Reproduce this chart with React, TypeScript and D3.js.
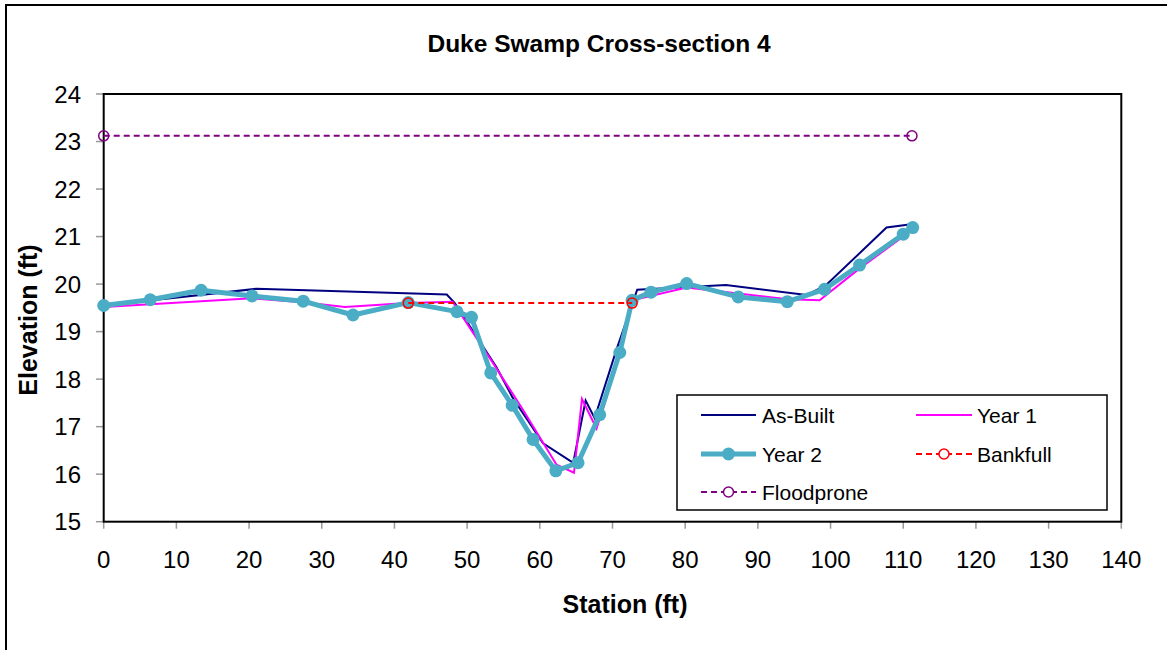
import React from "react";
import * as d3 from "d3";

const asBuiltX = [0, 21, 47.2, 48.3, 54, 56.3, 60.45, 64.6, 66.3, 67.55, 70.5, 73.4, 85.6, 96.7, 99.4, 107.7, 111.1];
const asBuiltY = [19.55, 19.9, 19.78, 19.6, 18.26, 17.6, 16.65, 16.24, 17.55, 17.18, 18.6, 19.88, 19.98, 19.77, 19.98, 21.19, 21.26];

const year1X = [0, 20.4, 27.4, 33.2, 41.8, 48, 53.3, 57.7, 62.3, 64.7, 65.8, 67.8, 69.2, 72.7, 80.2, 94.1, 98.5, 104, 110, 111.3];
const year1Y = [19.52, 19.7, 19.62, 19.52, 19.6, 19.63, 18.4, 17.35, 16.2, 16.03, 17.58, 16.96, 17.63, 19.66, 19.93, 19.68, 19.66, 20.33, 21.0, 21.2];

const year2X = [0, 6.4, 13.4, 20.4, 27.45, 34.3, 41.9, 48.6, 50.6, 53.25, 56.2, 59.07, 62.2, 65.26, 68.24, 71.0, 72.7, 75.3, 80.2, 87.3, 94.05, 99.17, 104.0, 110.0, 111.3];
const year2Y = [19.55, 19.67, 19.87, 19.75, 19.64, 19.35, 19.61, 19.42, 19.3, 18.13, 17.45, 16.73, 16.07, 16.24, 17.25, 18.56, 19.66, 19.83, 20.01, 19.73, 19.63, 19.89, 20.4, 21.05, 21.19];

const bankfullX = [41.9, 72.7];
const bankfullY = [19.6, 19.6];

const floodproneX = [0, 111.2];
const floodproneY = [23.12, 23.12];

const xTicks = [0, 10, 20, 30, 40, 50, 60, 70, 80, 90, 100, 110, 120, 130, 140];
const yTicks = [15, 16, 17, 18, 19, 20, 21, 22, 23, 24];

type P = [number, number];
const zip = (xs: number[], ys: number[]): P[] => xs.map((x, i) => [x, ys[i]]);

export default function App() {
  const left = 103.7, right = 1121.3, top = 94, bottom = 521.7;
  const x = d3.scaleLinear().domain([0, 140]).range([left, right]);
  const y = d3.scaleLinear().domain([15, 24]).range([bottom, top]);
  const line = d3.line<P>().x((d) => x(d[0])).y((d) => y(d[1]));

  const asBuilt = zip(asBuiltX, asBuiltY);
  const year1 = zip(year1X, year1Y);
  const year2 = zip(year2X, year2Y);
  const bank = zip(bankfullX, bankfullY);
  const flood = zip(floodproneX, floodproneY);

  const font = "Arial, 'Liberation Sans', sans-serif";
  const teal = "#4BACC6";

  return (
    <svg
      width={1167}
      height={650}
      style={{ position: "absolute", left: 0, top: 0, background: "#fff" }}
      fontFamily={font}
    >
      <rect x={0} y={0} width={1167} height={650} fill="#fff" />
      <rect x={6} y={5} width={1300} height={800} fill="none" stroke="#000" strokeWidth={2} />
      <text x={599} y={52} textAnchor="middle" fontWeight="bold" fontSize={24.5}>
        Duke Swamp Cross-section 4
      </text>

      {/* ticks */}
      {yTicks.map((t) => (
        <g key={"y" + t}>
          <line x1={96} x2={left} y1={y(t)} y2={y(t)} stroke="#999" strokeWidth={1.5} />
          <text x={81} y={y(t)} dy="0.36em" textAnchor="end" fontSize={24}>
            {t}
          </text>
        </g>
      ))}
      {xTicks.map((t) => (
        <g key={"x" + t}>
          <line x1={x(t)} x2={x(t)} y1={bottom} y2={bottom + 7} stroke="#999" strokeWidth={1.5} />
          <text x={x(t)} y={568} textAnchor="middle" fontSize={24}>
            {t}
          </text>
        </g>
      ))}

      <rect x={left} y={top} width={right - left} height={bottom - top} fill="none" stroke="#000" strokeWidth={2} />

      <text x={625} y={613} textAnchor="middle" fontWeight="bold" fontSize={25}>
        Station (ft)
      </text>
      <text
        transform={`translate(37,320) rotate(-90)`}
        textAnchor="middle"
        fontWeight="bold"
        fontSize={25}
      >
        Elevation (ft)
      </text>

      {/* series */}
      <path d={line(flood) || ""} fill="none" stroke="#800080" strokeWidth={2} strokeDasharray="6,4" />
      {flood.map((d, i) => (
        <circle key={"f" + i} cx={x(d[0])} cy={y(d[1])} r={5} fill="none" stroke="#800080" strokeWidth={1.5} />
      ))}
      <path d={line(asBuilt) || ""} fill="none" stroke="#000080" strokeWidth={2} />
      <path d={line(year1) || ""} fill="none" stroke="#FF00FF" strokeWidth={2} />
      <path d={line(year2) || ""} fill="none" stroke={teal} strokeWidth={5} strokeLinejoin="round" />
      {year2.map((d, i) => (
        <circle key={"y2" + i} cx={x(d[0])} cy={y(d[1])} r={6.5} fill={teal} />
      ))}
      <path d={line(bank) || ""} fill="none" stroke="#FF0000" strokeWidth={2} strokeDasharray="6,4" />
      {bank.map((d, i) => (
        <circle key={"b" + i} cx={x(d[0])} cy={y(d[1])} r={5} fill="none" stroke="#FF0000" strokeWidth={1.5} />
      ))}

      {/* legend */}
      <rect x={677} y={395} width={430} height={115} fill="#fff" stroke="#000" strokeWidth={1.5} />
      <g fontSize={21}>
        <line x1={701} x2={756} y1={415} y2={415} stroke="#000080" strokeWidth={2} />
        <text x={762} y={415} dy="0.36em">As-Built</text>
        <line x1={916} x2={972} y1={415} y2={415} stroke="#FF00FF" strokeWidth={2} />
        <text x={977} y={415} dy="0.36em">Year 1</text>

        <line x1={701} x2={756} y1={454} y2={454} stroke={teal} strokeWidth={5} />
        <circle cx={728.5} cy={454} r={6.5} fill={teal} />
        <text x={762} y={454} dy="0.36em">Year 2</text>
        <line x1={916} x2={972} y1={454} y2={454} stroke="#FF0000" strokeWidth={2} strokeDasharray="6,4" />
        <circle cx={944} cy={454} r={5} fill="#fff" stroke="#FF0000" strokeWidth={1.5} />
        <text x={977} y={454} dy="0.36em">Bankfull</text>

        <line x1={701} x2={756} y1={492} y2={492} stroke="#800080" strokeWidth={2} strokeDasharray="6,4" />
        <circle cx={728.5} cy={492} r={5} fill="#fff" stroke="#800080" strokeWidth={1.5} />
        <text x={762} y={492} dy="0.36em">Floodprone</text>
      </g>
    </svg>
  );
}
